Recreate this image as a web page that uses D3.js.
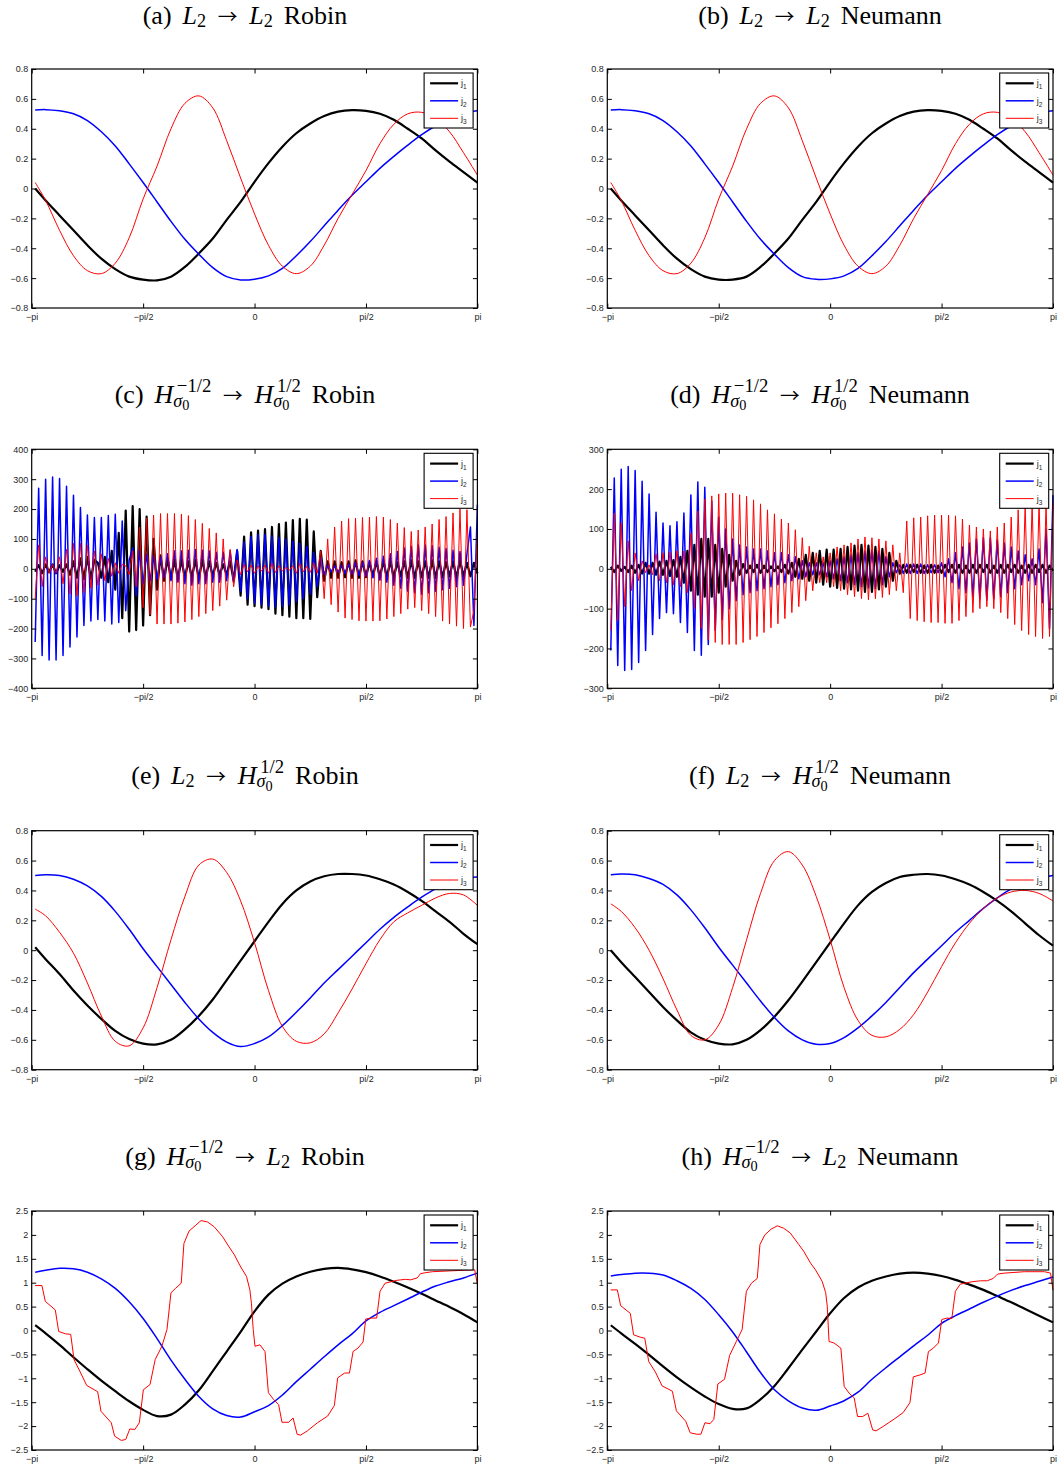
<!DOCTYPE html>
<html>
<head>
<meta charset="utf-8">
<script src="https://cdn.jsdelivr.net/npm/d3@7"></script>
<style>
body { margin: 0; background: #fff; }
svg { display: block; }
</style>
</head>
<body>
<svg id="fig" width="1058" height="1467"></svg>
<script>
/* eight panels of j1, j2, j3 on [-pi, pi] */
const PI = Math.PI;

// sample positions, in units of pi
const smoothT = d3.range(33).map(k => (k === 0 ? -63 / 64 : -1 + k / 16));
const denseT = d3.range(1, 129).map(i => -1 + i / 64);

const xTickValues = [-1, -0.5, 0, 0.5, 1];
const xTickLabels = ["\u2212pi", "\u2212pi/2", "0", "pi/2", "pi"];
const legendLabels = [["j", "1"], ["j", "2"], ["j", "3"]];
const seriesColors = ["#000000", "#0000ff", "#ff0000"];
const seriesWidths = [2.2, 1.5, 1];

// (a) L2 -> L2 Robin
const a_j1 = [0.00,-0.08,-0.18,-0.28,-0.38,-0.47,-0.54,-0.59,-0.61,-0.615,-0.59,-0.525,-0.435,-0.335,-0.21,-0.09,0.045,0.17,0.28,0.37,0.435,0.485,0.515,0.525,0.52,0.50,0.46,0.40,0.335,0.255,0.18,0.11,0.04];
const a_j2 = [0.525,0.528,0.52,0.50,0.455,0.38,0.285,0.165,0.04,-0.09,-0.22,-0.34,-0.44,-0.53,-0.59,-0.612,-0.607,-0.585,-0.535,-0.45,-0.355,-0.25,-0.145,-0.045,0.045,0.135,0.215,0.29,0.36,0.42,0.47,0.505,0.52];
const a_j3 = [0.04,-0.08,-0.28,-0.45,-0.55,-0.57,-0.50,-0.33,-0.07,0.15,0.40,0.57,0.62,0.54,0.32,0.07,-0.17,-0.38,-0.52,-0.57,-0.52,-0.38,-0.2,-0.04,0.12,0.30,0.43,0.50,0.51,0.47,0.38,0.24,0.09];

// (b) L2 -> L2 Neumann
const b_j1 = [0.00,-0.08,-0.18,-0.28,-0.38,-0.47,-0.54,-0.59,-0.61,-0.61,-0.59,-0.525,-0.435,-0.335,-0.21,-0.09,0.045,0.17,0.28,0.37,0.435,0.485,0.515,0.525,0.52,0.50,0.46,0.40,0.335,0.255,0.18,0.11,0.04];
const b_j2 = [0.525,0.528,0.52,0.50,0.455,0.38,0.285,0.165,0.04,-0.09,-0.22,-0.34,-0.44,-0.53,-0.59,-0.608,-0.605,-0.585,-0.535,-0.45,-0.355,-0.25,-0.145,-0.045,0.045,0.135,0.215,0.29,0.36,0.42,0.47,0.505,0.52];
const b_j3 = [0.04,-0.08,-0.28,-0.45,-0.55,-0.57,-0.50,-0.33,-0.07,0.15,0.40,0.57,0.62,0.54,0.32,0.07,-0.17,-0.38,-0.52,-0.57,-0.52,-0.38,-0.2,-0.04,0.12,0.30,0.43,0.50,0.51,0.47,0.38,0.24,0.09];

// (c) H^-1/2 -> H^1/2 Robin
const c_j1 = [-10,12,-15,15,-12,15,-15,12,-10,15,
  -20,25,-30,35,-35,40,-35,30,20,-30,
  40,-45,60,-70,120,-165,195,-210,210,-205,
  200,-190,175,-155,100,-70,45,-40,35,-35,
  30,-35,30,-30,25,-30,30,-35,30,-30,
  25,-25,20,-20,15,-20,25,-40,60,-90,
  108,-120,122,-125,128,-130,133,-135,140,-150,
  150,-155,155,-160,163,-165,167,-165,165,-168,
  125,-95,60,-40,25,-30,25,-30,22,-28,
  25,-30,28,-30,25,-28,22,-25,25,-30,
  28,-30,25,-28,22,-25,25,-30,28,-30,
  25,-28,25,-30,28,-30,25,-28,22,-25,
  25,-30,28,-25,20,-25,20,-15];
const c_j2 = [-245,270,-290,300,-305,307,-305,302,-290,276,
  -262,246,-228,205,-190,180,-175,172,-170,172,
  -175,178,-185,183,-180,160,-140,30,70,-90,
  60,-50,48,-40,42,-35,40,-30,50,-40,
  60,-45,60,-50,62,-55,65,-50,62,-50,
  60,-45,55,-45,55,-40,60,-45,65,-75,
  90,-100,108,-115,115,-120,115,-125,110,-128,
  105,-125,100,-120,92,-110,85,-100,75,-85,
  55,-60,35,-20,12,-10,10,-12,12,-15,
  15,-18,20,-22,22,-25,28,-30,35,-38,
  42,-45,50,-55,58,-65,70,-75,75,-80,
  80,-85,80,-80,78,-75,72,-70,68,-65,
  62,-60,58,-55,50,140,-190,215];
const c_j3 = [-100,80,-60,40,-15,15,-15,40,-50,65,
  -85,85,-90,85,-80,80,-65,60,-55,50,
  -40,35,-25,20,-15,15,10,-20,60,-60,
  140,-130,170,-155,180,-185,185,-185,185,-185,
  185,-182,183,-178,178,-170,165,-160,152,-150,
  135,-140,120,-125,100,-105,65,-60,30,-20,
  15,-10,12,-15,10,-8,12,-15,18,-12,
  10,-8,5,-5,10,-15,18,-10,8,-12,
  20,-15,60,-100,100,-120,140,-145,160,-165,
  168,-170,170,-174,172,-175,173,-175,175,-174,
  173,-168,165,-160,153,-150,138,-135,125,-130,
  130,-140,140,-150,150,-160,165,-175,175,-185,
  187,-192,200,-200,198,-195,-140,120];

// (d) H^-1/2 -> H^1/2 Neumann
const d_j1 = [5,-8,8,-5,5,-8,8,-10,10,-12,
  15,-12,15,-15,18,-15,20,-18,22,-20,
  30,-35,45,-55,60,-65,75,-70,75,-70,
  60,-60,50,-45,35,-30,20,-15,12,-10,
  8,-8,10,-10,8,-8,6,-6,6,-8,
  10,-12,15,-20,25,-25,35,-30,40,-35,
  45,-40,48,-45,48,-48,50,-50,55,-52,
  58,-55,60,-58,58,-58,55,-52,50,-45,
  40,-30,20,-12,10,-10,10,-8,10,-10,
  8,-10,10,-10,8,-10,10,-8,10,-10,
  10,-10,8,-10,10,-10,10,-8,10,-10,
  8,-10,10,-10,10,-8,10,-10,8,-10,
  10,-10,10,-8,10,-10,8,-5];
const d_j2 = [-205,228,-243,250,-255,257,-253,247,-235,220,
  -205,188,-165,142,-125,115,-110,108,-113,118,
  -135,140,-160,185,-205,218,-217,205,-190,170,
  -155,130,-128,100,-100,75,-80,60,-65,55,
  -60,50,-55,50,-50,45,-45,40,-40,40,
  -35,35,-30,30,-25,20,-20,15,-15,15,
  -15,15,-20,20,-25,25,-30,30,-35,35,
  -40,40,-45,45,-48,48,-50,45,-40,30,
  -20,15,-10,10,-12,12,-12,12,-12,12,
  -12,10,-10,10,-10,15,-20,25,-35,40,
  -50,55,-60,65,-70,75,-75,78,-78,78,
  -75,72,-70,65,-60,55,-50,45,-40,35,
  -30,25,-40,50,-85,100,-150,185];
const d_j3 = [-155,140,-130,115,-95,70,-55,40,-30,20,
  -10,10,-15,38,-30,40,-35,42,-40,45,
  -45,45,-60,90,-100,145,-150,175,-178,183,
  -185,188,-190,190,-190,190,-190,186,-185,182,
  -178,173,-170,163,-160,148,-148,138,-138,125,
  -125,115,-110,98,-95,78,-80,57,-55,40,
  -35,30,-35,40,-45,55,-55,60,-65,65,
  -70,75,-75,80,-78,78,-75,75,-72,70,
  -65,60,-55,40,-60,120,-125,128,-130,130,
  -133,133,-135,135,-135,135,-137,135,-137,133,
  -130,125,-120,110,-110,105,-100,100,-95,95,
  -100,105,-110,115,-125,130,-140,148,-155,160,
  -165,165,-170,168,-175,165,-170,165];

// (e) L2 -> H^1/2 Robin
const e_j1 = [0.02,-0.06,-0.16,-0.27,-0.37,-0.46,-0.54,-0.595,-0.625,-0.63,-0.60,-0.53,-0.44,-0.33,-0.20,-0.07,0.06,0.19,0.31,0.40,0.46,0.495,0.51,0.51,0.50,0.475,0.44,0.39,0.33,0.26,0.19,0.11,0.04];
const e_j2 = [0.50,0.505,0.50,0.475,0.43,0.36,0.26,0.14,0.01,-0.11,-0.23,-0.35,-0.46,-0.55,-0.615,-0.645,-0.625,-0.58,-0.505,-0.415,-0.32,-0.22,-0.13,-0.04,0.05,0.14,0.22,0.29,0.355,0.41,0.45,0.48,0.49];
const e_j3 = [0.275,0.23,0.12,-0.02,-0.22,-0.44,-0.61,-0.64,-0.52,-0.25,0.07,0.36,0.57,0.61,0.52,0.33,0.05,-0.27,-0.51,-0.61,-0.62,-0.56,-0.42,-0.26,-0.09,0.07,0.19,0.25,0.30,0.35,0.38,0.37,0.30];

// (f) L2 -> H^1/2 Neumann
const f_j1 = [0.0,-0.08,-0.18,-0.28,-0.38,-0.47,-0.55,-0.60,-0.625,-0.63,-0.60,-0.535,-0.445,-0.335,-0.21,-0.08,0.05,0.18,0.30,0.39,0.45,0.49,0.505,0.51,0.50,0.475,0.44,0.39,0.33,0.26,0.18,0.10,0.03];
const f_j2 = [0.505,0.51,0.505,0.48,0.44,0.37,0.27,0.15,0.02,-0.10,-0.22,-0.34,-0.45,-0.54,-0.60,-0.63,-0.625,-0.585,-0.52,-0.44,-0.35,-0.25,-0.15,-0.06,0.03,0.12,0.20,0.28,0.35,0.41,0.45,0.48,0.50];
const f_j3 = [0.31,0.26,0.15,0.0,-0.19,-0.40,-0.57,-0.60,-0.50,-0.25,0.07,0.38,0.60,0.66,0.57,0.36,0.07,-0.25,-0.47,-0.57,-0.58,-0.53,-0.43,-0.28,-0.11,0.05,0.18,0.28,0.35,0.39,0.40,0.38,0.33];

// (g) H^-1/2 -> L2 Robin
const g_j1 = [0.11,-0.06,-0.30,-0.56,-0.81,-1.05,-1.27,-1.48,-1.66,-1.79,-1.76,-1.55,-1.25,-0.85,-0.44,-0.03,0.40,0.75,0.98,1.13,1.23,1.29,1.31,1.28,1.22,1.13,1.02,0.90,0.77,0.63,0.49,0.34,0.17];
const g_j2 = [1.22,1.26,1.30,1.29,1.22,1.08,0.88,0.60,0.25,-0.17,-0.62,-1.02,-1.38,-1.64,-1.78,-1.81,-1.70,-1.57,-1.35,-1.07,-0.81,-0.55,-0.30,-0.07,0.20,0.38,0.52,0.66,0.80,0.93,1.02,1.10,1.20];
const g_j3_t = [-0.985,-0.954,-0.939,-0.894,-0.879,-0.848,-0.825,-0.810,-0.780,-0.753,-0.704,-0.689,-0.643,-0.628,-0.598,-0.578,-0.560,-0.537,-0.517,-0.499,-0.469,-0.446,-0.416,-0.393,-0.375,-0.355,-0.329,-0.317,-0.294,-0.267,-0.240,-0.211,-0.181,-0.143,-0.120,-0.090,-0.067,-0.036,-0.021,-0.014,-0.006,0.002,0.024,0.047,0.062,0.085,0.108,0.123,0.153,0.173,0.191,0.206,0.237,0.282,0.328,0.358,0.373,0.404,0.426,0.442,0.464,0.487,0.499,0.525,0.548,0.563,0.586,0.639,0.677,0.700,0.730,0.745,0.768,0.798,0.889,0.988,1.0];
const g_j3 = [0.94,0.94,0.61,0.43,-0.02,-0.07,-0.08,-0.61,-0.89,-1.15,-1.28,-1.69,-1.93,-2.21,-2.30,-2.28,-2.06,-2.07,-1.93,-1.24,-1.13,-0.61,-0.33,0.02,0.79,0.88,0.99,1.82,2.08,2.19,2.30,2.27,2.17,1.96,1.79,1.58,1.37,1.13,0.85,0.57,0.02,-0.33,-0.30,-0.44,-1.30,-1.44,-1.55,-1.92,-1.92,-1.83,-2.17,-2.19,-2.10,-1.93,-1.79,-1.57,-0.99,-0.89,-0.89,-0.44,-0.37,-0.24,0.24,0.26,0.26,0.82,0.99,1.05,1.07,1.06,1.10,1.19,1.21,1.23,1.25,1.27,0.96];

// (h) H^-1/2 -> L2 Neumann
const h_j1 = [0.11,-0.06,-0.28,-0.51,-0.75,-0.98,-1.19,-1.38,-1.54,-1.64,-1.63,-1.44,-1.16,-0.79,-0.40,-0.02,0.36,0.68,0.90,1.04,1.13,1.19,1.21,1.19,1.14,1.06,0.96,0.85,0.72,0.59,0.45,0.31,0.17];
const h_j2 = [1.14,1.17,1.20,1.20,1.16,1.04,0.88,0.65,0.33,-0.03,-0.45,-0.88,-1.24,-1.47,-1.62,-1.67,-1.58,-1.47,-1.29,-1.02,-0.78,-0.55,-0.32,-0.10,0.15,0.31,0.45,0.59,0.72,0.84,0.94,1.03,1.12];
const h_j3_t = [-0.985,-0.955,-0.940,-0.897,-0.882,-0.852,-0.832,-0.814,-0.784,-0.754,-0.708,-0.690,-0.648,-0.628,-0.598,-0.580,-0.562,-0.539,-0.522,-0.504,-0.474,-0.451,-0.421,-0.395,-0.376,-0.353,-0.327,-0.315,-0.293,-0.265,-0.237,-0.209,-0.179,-0.141,-0.119,-0.088,-0.066,-0.036,-0.020,-0.013,-0.005,0.017,0.048,0.063,0.085,0.108,0.123,0.146,0.169,0.191,0.206,0.237,0.282,0.327,0.358,0.373,0.403,0.426,0.441,0.463,0.486,0.501,0.524,0.546,0.562,0.584,0.637,0.675,0.705,0.732,0.751,0.781,0.871,0.962,0.989,1.0];
const h_j3 = [0.85,0.85,0.52,0.36,-0.09,-0.14,-0.16,-0.65,-0.87,-1.16,-1.27,-1.68,-1.90,-2.14,-2.17,-2.17,-1.93,-1.95,-1.86,-1.12,-1.02,-0.52,-0.23,0.02,0.82,0.99,1.09,1.80,2.00,2.12,2.19,2.14,2.04,1.80,1.66,1.41,1.27,1.03,0.79,0.51,-0.23,-0.26,-0.37,-1.17,-1.31,-1.41,-1.80,-1.80,-1.73,-2.08,-2.10,-2.01,-1.87,-1.72,-1.51,-0.97,-0.93,-0.89,-0.44,-0.37,-0.26,0.23,0.26,0.25,0.82,0.97,1.02,1.04,1.04,1.09,1.18,1.20,1.23,1.23,1.20,0.84];

// titles: [style, text], ["gap", em], ["stack", sub pieces, sup pieces]
const sigma0 = [["subit", "\u03c3"], ["sub0", "0"]];
const supM = [["gap", 0.14], ["sup", "\u22121/2"]];
const supP = [["gap", 0.14], ["sup", "1/2"]];
const arrow = [["gap", 0.45], ["arr", "\u2192"], ["gap", 0.45]];
const titleA = [["rm","(a)"],["gap",0.42],["it","L"],["sub","2"],...arrow,["it","L"],["sub","2"],["gap",0.42],["rm","Robin"]];
const titleB = [["rm","(b)"],["gap",0.42],["it","L"],["sub","2"],...arrow,["it","L"],["sub","2"],["gap",0.42],["rm","Neumann"]];
const titleC = [["rm","(c)"],["gap",0.42],["it","H"],["stack",sigma0,supM],...arrow,["it","H"],["stack",sigma0,supP],["gap",0.42],["rm","Robin"]];
const titleD = [["rm","(d)"],["gap",0.42],["it","H"],["stack",sigma0,supM],...arrow,["it","H"],["stack",sigma0,supP],["gap",0.42],["rm","Neumann"]];
const titleE = [["rm","(e)"],["gap",0.42],["it","L"],["sub","2"],...arrow,["it","H"],["stack",sigma0,supP],["gap",0.42],["rm","Robin"]];
const titleF = [["rm","(f)"],["gap",0.42],["it","L"],["sub","2"],...arrow,["it","H"],["stack",sigma0,supP],["gap",0.42],["rm","Neumann"]];
const titleG = [["rm","(g)"],["gap",0.42],["it","H"],["stack",sigma0,supM],...arrow,["it","L"],["sub","2"],["gap",0.42],["rm","Robin"]];
const titleH = [["rm","(h)"],["gap",0.42],["it","H"],["stack",sigma0,supM],...arrow,["it","L"],["sub","2"],["gap",0.42],["rm","Neumann"]];

// layout
const fig = d3.select("svg#fig");
const colLeft = [31.7, 607.3];
const boxW = 445.7;
const boxH = 239;
const rowTop = [69, 449.3, 830.7, 1211];
const titleCx = [245, 820];
const titleBase = [23.5, 403.2, 784, 1164.5];
const titleSize = 26;
const tickFont = "'Liberation Sans', Arial, sans-serif";

const panels = [
  { col: 0, row: 0, title: titleA, yDomain: [-0.8, 0.8], yStep: 0.2,
    series: [[smoothT, a_j1, 1], [smoothT, a_j2, 1], [smoothT, a_j3, 1]] },
  { col: 1, row: 0, title: titleB, yDomain: [-0.8, 0.8], yStep: 0.2,
    series: [[smoothT, b_j1, 1], [smoothT, b_j2, 1], [smoothT, b_j3, 1]] },
  { col: 0, row: 1, title: titleC, yDomain: [-400, 400], yStep: 100,
    series: [[denseT, c_j1, 0], [denseT, c_j2, 0], [denseT, c_j3, 0]] },
  { col: 1, row: 1, title: titleD, yDomain: [-300, 300], yStep: 100,
    series: [[denseT, d_j1, 0], [denseT, d_j2, 0], [denseT, d_j3, 0]] },
  { col: 0, row: 2, title: titleE, yDomain: [-0.8, 0.8], yStep: 0.2,
    series: [[smoothT, e_j1, 1], [smoothT, e_j2, 1], [smoothT, e_j3, 1]] },
  { col: 1, row: 2, title: titleF, yDomain: [-0.8, 0.8], yStep: 0.2,
    series: [[smoothT, f_j1, 1], [smoothT, f_j2, 1], [smoothT, f_j3, 1]] },
  { col: 0, row: 3, title: titleG, yDomain: [-2.5, 2.5], yStep: 0.5,
    series: [[smoothT, g_j1, 1], [smoothT, g_j2, 1], [g_j3_t, g_j3, 0]] },
  { col: 1, row: 3, title: titleH, yDomain: [-2.5, 2.5], yStep: 0.5,
    series: [[smoothT, h_j1, 1], [smoothT, h_j2, 1], [h_j3_t, h_j3, 0]] }
];

const titleStyles = {
  rm: { k: 1, dy: 0 },
  it: { k: 1, dy: 0, it: true },
  arr: { k: 0.76, dy: 0, font: "'Noto Sans CJK JP', 'DejaVu Sans', sans-serif" },
  sub: { k: 0.7, dy: 0.12 },
  subit: { k: 0.7, dy: 0.13, it: true },
  sub0: { k: 0.55, dy: 0.25 },
  sup: { k: 0.72, dy: -0.44 }
};

// one <text> per title, each piece a tspan placed at an absolute x
function drawTitle(cx, base, parts) {
  const text = fig.append("text")
    .attr("font-family", "'Liberation Serif', 'DejaVu Serif', serif")
    .attr("font-size", titleSize)
    .attr("fill", "#000");
  let x = 0;
  const put = (kind, str, x0) => {
    if (kind === "gap") return str * titleSize;
    const st = titleStyles[kind];
    const sp = text.append("tspan")
      .attr("x", x0)
      .attr("y", st.dy * titleSize)
      .attr("font-size", titleSize * st.k)
      .attr("font-style", st.it ? "italic" : "normal")
      .text(str);
    if (st.font) sp.attr("font-family", st.font);
    return sp.node().getComputedTextLength();
  };
  parts.forEach(p => {
    if (p[0] === "stack") {
      let w = 0;
      p.slice(1).forEach(line => {
        let xx = x;
        line.forEach(([kind, str]) => { xx += put(kind, str, xx); });
        w = Math.max(w, xx - x);
      });
      x += w;
      return;
    }
    x += put(p[0], p[1], x);
  });
  text.attr("transform", `translate(${cx - x / 2},${base})`);
}

const fmtY = v => (v < 0 ? "\u2212" : "") + String(Math.abs(v));

function styleAxis(sel) {
  sel.select(".domain").remove();
  sel.attr("font-family", tickFont).attr("font-size", 9);
  sel.selectAll(".tick line").attr("stroke", "#000").attr("stroke-width", 1);
  sel.selectAll(".tick text").attr("fill", "#262626");
}

function drawPanel(p) {
  const left = colLeft[p.col];
  const top = rowTop[p.row];
  const g = fig.append("g").attr("transform", `translate(${left},${top})`);

  const x = d3.scaleLinear().domain([-PI, PI]).range([0, boxW]);
  const y = d3.scaleLinear().domain(p.yDomain).range([boxH, 0]);
  const n = Math.round((p.yDomain[1] - p.yDomain[0]) / p.yStep);
  const yTicks = d3.range(n + 1).map(i => Math.round((p.yDomain[0] + i * p.yStep) * 10) / 10);

  // curves
  p.series.forEach((s, k) => {
    const pts = s[0].map((t, i) => [t, s[1][i]]);
    const line = d3.line()
      .x(d => x(d[0] * PI))
      .y(d => y(d[1]))
      .curve(s[2] ? d3.curveCatmullRom : d3.curveLinear);
    g.append("path")
      .attr("d", line(pts))
      .attr("fill", "none")
      .attr("stroke", seriesColors[k])
      .attr("stroke-width", seriesWidths[k])
      .attr("stroke-linejoin", "round");
  });

  // axes, ticks pointing inward
  g.append("g")
    .call(d3.axisLeft(y).tickValues(yTicks).tickSizeInner(-4.5).tickSizeOuter(0).tickPadding(3.5).tickFormat(fmtY))
    .call(styleAxis);
  g.append("g")
    .attr("transform", `translate(${boxW},0)`)
    .call(d3.axisRight(y).tickValues(yTicks).tickSizeInner(-4.5).tickSizeOuter(0).tickFormat(""))
    .call(styleAxis);
  g.append("g")
    .attr("transform", `translate(0,${boxH})`)
    .call(d3.axisBottom(x).tickValues(xTickValues.map(v => v * PI)).tickSizeInner(-4.5).tickSizeOuter(0)
      .tickPadding(5.5).tickFormat((d, i) => xTickLabels[i]))
    .call(styleAxis);
  g.append("g")
    .call(d3.axisTop(x).tickValues(xTickValues.map(v => v * PI)).tickSizeInner(-4.5).tickSizeOuter(0).tickFormat(""))
    .call(styleAxis);

  g.append("rect")
    .attr("width", boxW)
    .attr("height", boxH)
    .attr("fill", "none")
    .attr("stroke", "#000")
    .attr("stroke-width", 1.2);

  // legend
  const lg = g.append("g").attr("transform", `translate(${boxW - 53.3},4)`);
  lg.append("rect")
    .attr("width", 49)
    .attr("height", 55)
    .attr("fill", "#fff")
    .attr("stroke", "#000")
    .attr("stroke-width", 1.1);
  legendLabels.forEach((lab, k) => {
    const yy = 10.3 + k * 17.5;
    lg.append("line")
      .attr("x1", 6).attr("x2", 34)
      .attr("y1", yy).attr("y2", yy)
      .attr("stroke", seriesColors[k])
      .attr("stroke-width", seriesWidths[k]);
    const tx = lg.append("text")
      .attr("x", 37)
      .attr("y", yy + 3)
      .attr("font-family", tickFont)
      .attr("font-size", 9)
      .attr("fill", "#262626");
    tx.append("tspan").text(lab[0]);
    tx.append("tspan").attr("font-size", 6.5).attr("dy", 3).text(lab[1]);
  });

  drawTitle(titleCx[p.col], titleBase[p.row], p.title);
}

panels.forEach(drawPanel);
</script>
</body>
</html>
